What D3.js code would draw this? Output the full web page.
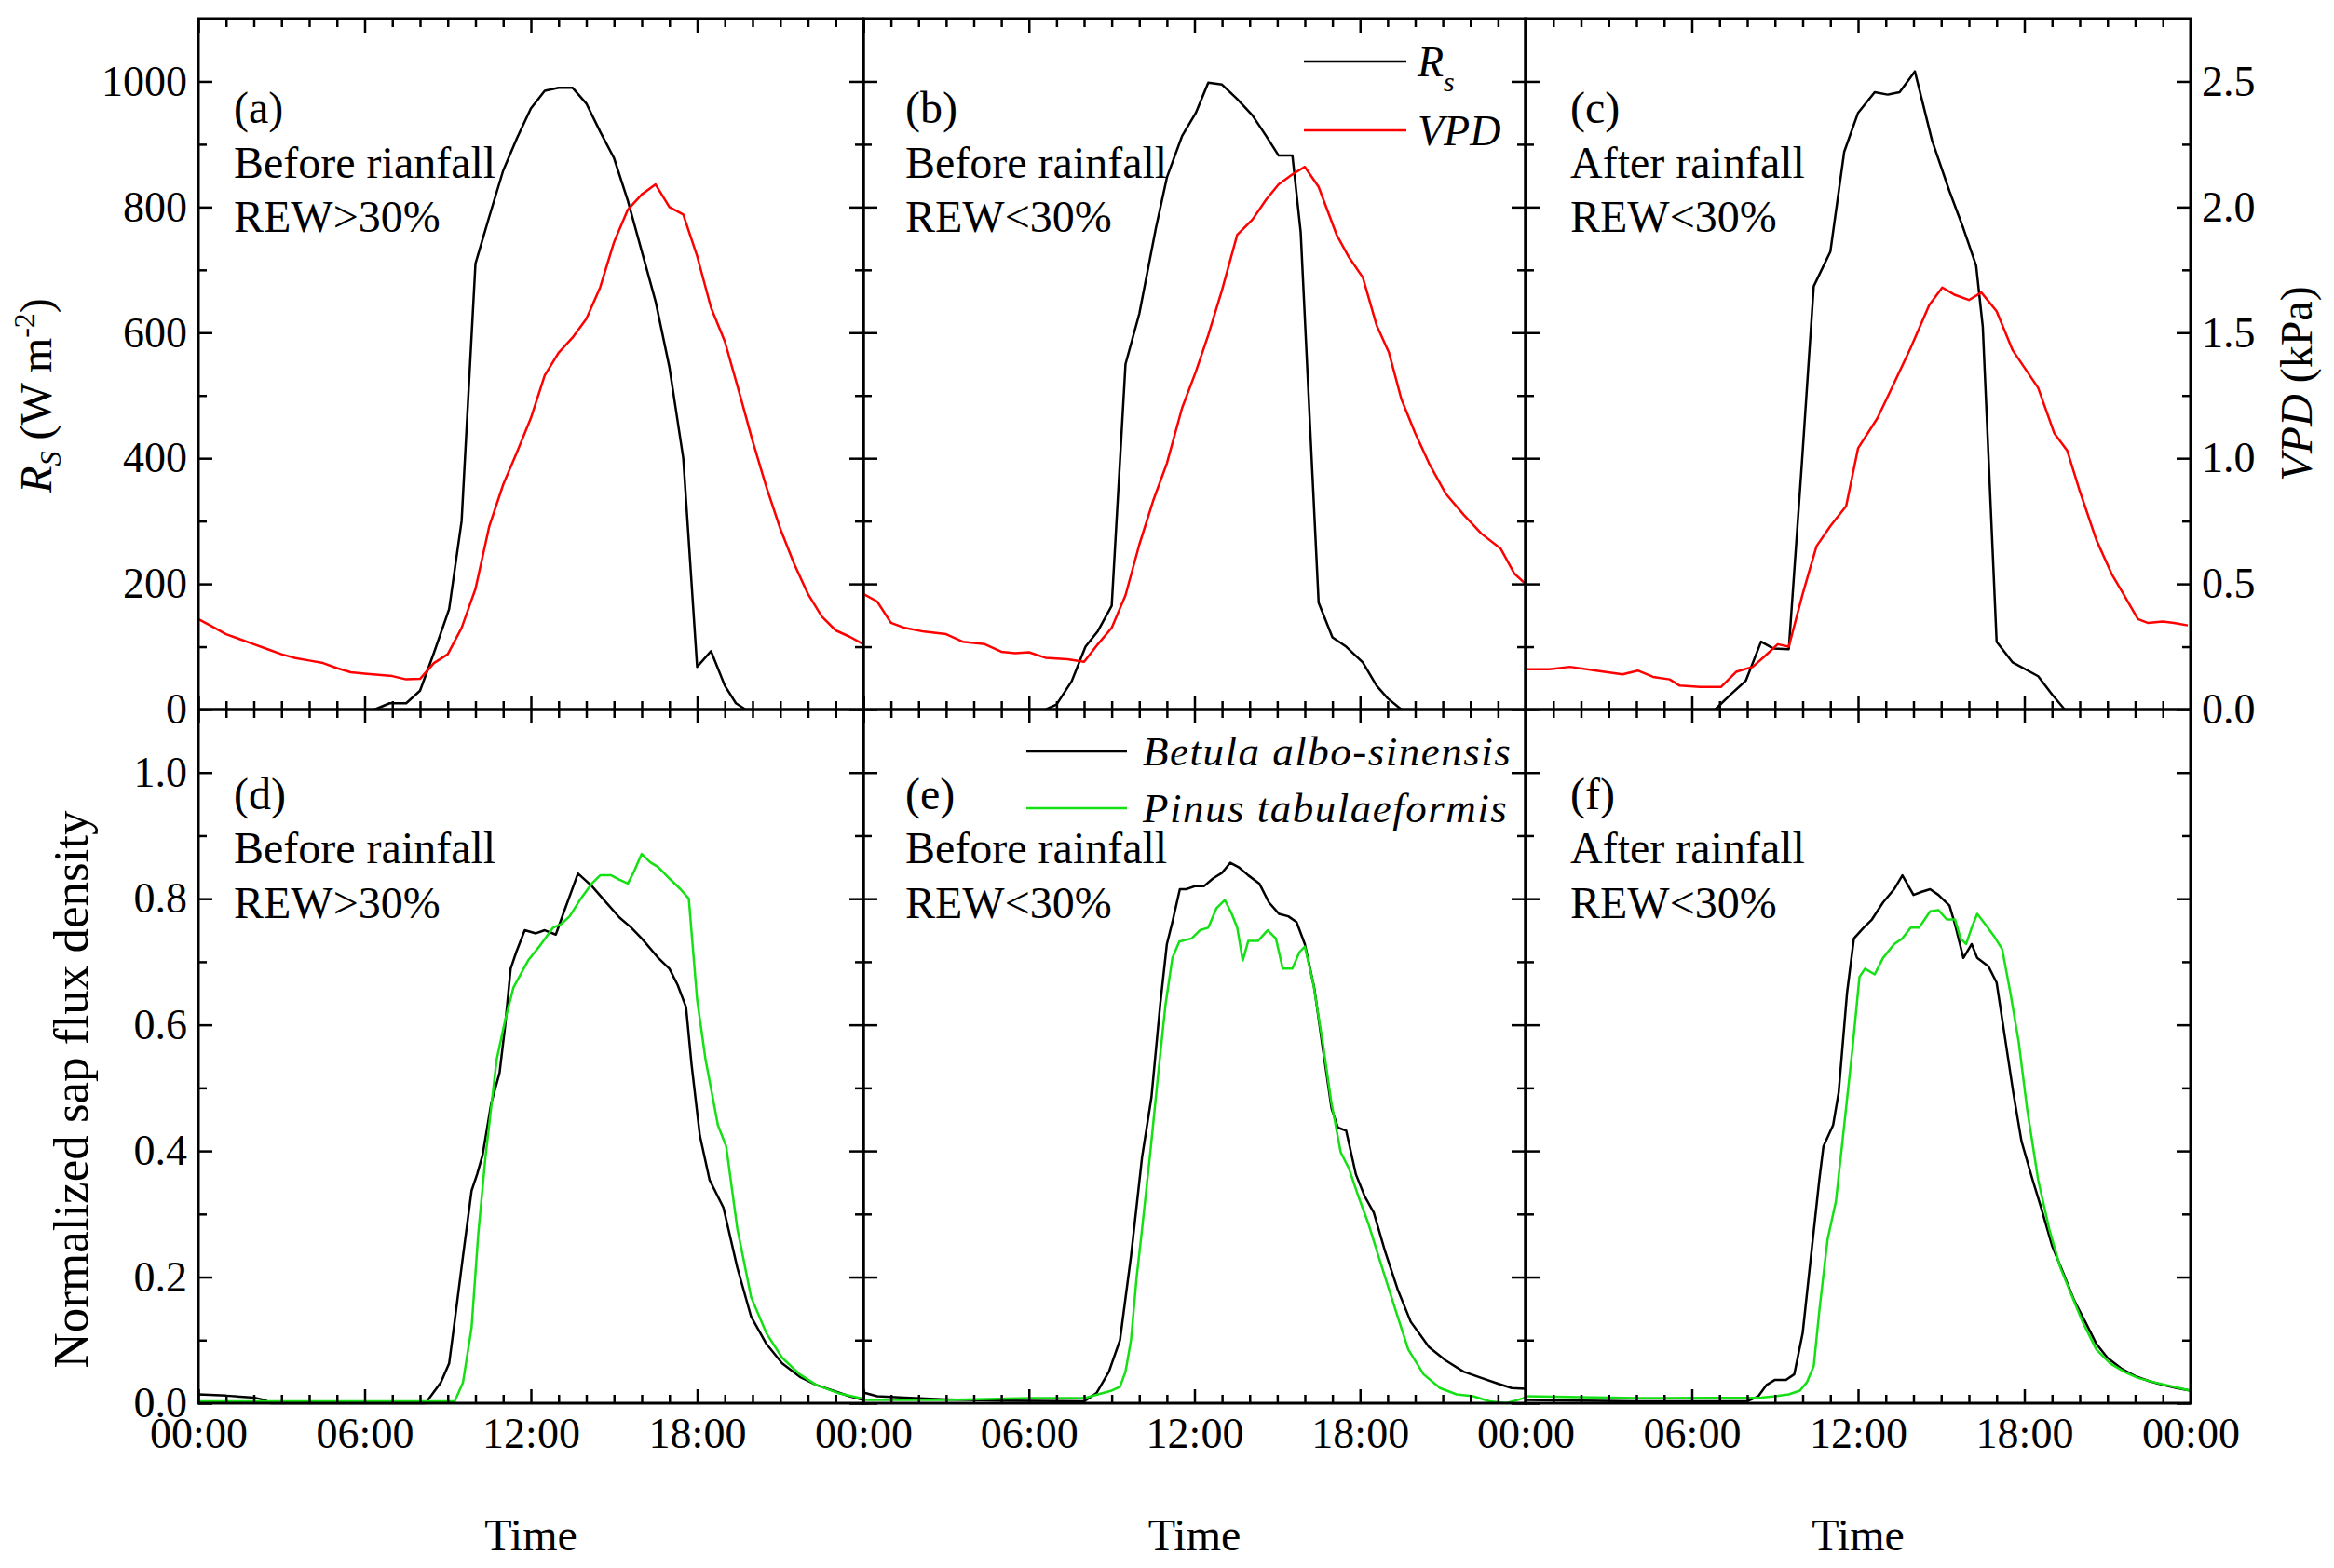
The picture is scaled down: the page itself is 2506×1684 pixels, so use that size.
<!DOCTYPE html>
<html>
<head>
<meta charset="utf-8">
<script src="https://cdn.jsdelivr.net/npm/d3@7"></script>
<style>
  body { margin: 0; background: #fff; }
</style>
</head>
<body>
<svg id="chart"></svg>
<script>
// ---- data (hour of day, value) ----
const rsA = [[6.36,0],[6.9,10],[7.5,10],[8.0,30],[8.5,90],[9.05,160],[9.5,300],[10.0,710],[10.5,785],[11.0,858],[11.5,910],[12.0,957],[12.5,985],[13.0,990],[13.5,990],[14.0,965],[14.5,920],[15.0,878],[15.5,810],[16.0,730],[16.5,650],[17.0,545],[17.5,400],[18.0,68],[18.5,93],[19.0,38],[19.4,10],[19.75,0]];
const vpdA = [[0,0.36],[0.5,0.33],[1,0.30],[1.5,0.28],[2,0.26],[2.5,0.24],[3,0.22],[3.5,0.205],[4,0.195],[4.5,0.185],[5,0.165],[5.5,0.148],[6,0.143],[6.5,0.138],[7,0.133],[7.5,0.12],[8,0.122],[8.5,0.185],[9,0.22],[9.5,0.325],[10,0.48],[10.5,0.73],[11,0.895],[11.5,1.025],[12,1.16],[12.5,1.33],[13,1.42],[13.5,1.48],[14,1.555],[14.5,1.68],[15,1.86],[15.5,1.99],[16,2.05],[16.5,2.09],[17,2.0],[17.5,1.97],[18,1.805],[18.5,1.6],[19,1.465],[19.5,1.27],[20,1.07],[20.5,0.885],[21,0.72],[21.5,0.58],[22,0.46],[22.5,0.37],[23,0.315],[23.5,0.29],[24,0.26]];

const rsB = [[6.6,0],[7.0,8],[7.55,45],[8.05,100],[8.5,125],[9.0,165],[9.5,550],[10.0,630],[10.6,766],[11.0,847],[11.55,913],[12.05,950],[12.5,998],[13.0,995],[13.55,972],[14.1,946],[14.6,913],[15.05,882],[15.55,882],[15.85,760],[16.5,170],[17.0,115],[17.5,100],[18.1,75],[18.6,38],[19.0,18],[19.5,0]];
const vpdB = [[0,0.46],[0.5,0.43],[1.0,0.345],[1.5,0.325],[2.2,0.31],[3.0,0.30],[3.6,0.27],[4.4,0.26],[5.0,0.23],[5.5,0.224],[6.0,0.228],[6.6,0.206],[7.4,0.20],[8.0,0.19],[8.5,0.26],[9.0,0.325],[9.5,0.455],[10.0,0.656],[10.5,0.83],[11.0,0.98],[11.55,1.2],[12.05,1.345],[12.5,1.49],[13.0,1.67],[13.55,1.89],[14.1,1.95],[14.6,2.03],[15.05,2.09],[15.55,2.13],[16.0,2.16],[16.5,2.08],[17.15,1.89],[17.6,1.8],[18.1,1.72],[18.6,1.53],[19.05,1.42],[19.5,1.235],[20.0,1.10],[20.5,0.98],[21.1,0.86],[21.75,0.776],[22.4,0.70],[23.1,0.64],[23.6,0.54],[24.0,0.50]];

const rsC = [[6.84,0],[7.4,24],[7.95,46],[8.5,108],[8.95,97],[9.5,96],[9.97,391],[10.4,674],[11.0,729],[11.5,888],[12.0,950],[12.6,983],[13.07,979],[13.5,983],[14.05,1016],[14.67,906],[15.3,825],[15.8,766],[16.26,707],[16.5,610],[16.72,390],[17.0,108],[17.58,75],[18.5,53],[19.0,24],[19.46,0]];
const vpdC = [[0,0.16],[0.86,0.16],[1.6,0.17],[2.55,0.155],[3.5,0.14],[4.05,0.155],[4.6,0.13],[5.2,0.12],[5.56,0.095],[6.3,0.09],[7.06,0.09],[7.6,0.15],[8.2,0.17],[8.66,0.215],[9.1,0.26],[9.5,0.25],[10.0,0.46],[10.5,0.65],[11.0,0.73],[11.57,0.81],[12.0,1.04],[12.7,1.16],[13.26,1.29],[13.9,1.44],[14.57,1.61],[15.04,1.68],[15.5,1.65],[16.0,1.63],[16.45,1.66],[17.0,1.585],[17.58,1.43],[18.5,1.28],[19.08,1.10],[19.55,1.03],[20.0,0.87],[20.6,0.675],[21.15,0.54],[21.6,0.455],[22.1,0.36],[22.45,0.345],[23.0,0.35],[23.4,0.345],[23.9,0.335]];

const betulaD = [[0,0.014],[1.0,0.012],[2.0,0.009],[2.4,0.005],[2.6,0],[8.2,0],[8.75,0.033],[9.05,0.063],[9.25,0.13],[9.55,0.233],[9.86,0.337],[10.06,0.363],[10.26,0.394],[10.57,0.476],[10.87,0.524],[11.07,0.598],[11.27,0.689],[11.47,0.715],[11.78,0.75],[12.18,0.745],[12.5,0.75],[12.9,0.743],[13.2,0.78],[13.7,0.84],[14.2,0.82],[14.7,0.795],[15.2,0.77],[15.6,0.755],[16.0,0.737],[16.6,0.706],[17.0,0.689],[17.3,0.663],[17.6,0.628],[17.8,0.537],[18.1,0.424],[18.45,0.354],[18.95,0.31],[19.45,0.215],[19.95,0.137],[20.5,0.094],[21.07,0.063],[21.7,0.042],[22.3,0.029],[22.9,0.02],[23.5,0.011],[24,0.005]];
const pinusD = [[0,0.003],[9.25,0.003],[9.55,0.033],[9.86,0.12],[10.1,0.268],[10.36,0.39],[10.77,0.546],[11.07,0.607],[11.37,0.659],[11.9,0.702],[12.3,0.724],[12.8,0.754],[13.1,0.76],[13.4,0.772],[13.8,0.80],[14.2,0.824],[14.5,0.837],[14.9,0.837],[15.2,0.83],[15.5,0.824],[15.7,0.841],[16.0,0.871],[16.3,0.858],[16.6,0.85],[17.0,0.832],[17.4,0.815],[17.7,0.80],[18.0,0.64],[18.3,0.546],[18.75,0.441],[19.05,0.407],[19.45,0.277],[19.95,0.168],[20.5,0.111],[21.07,0.072],[21.7,0.046],[22.3,0.029],[23.1,0.016],[24,0.007]];

const betulaE = [[0,0.017],[0.5,0.011],[1.5,0.009],[3,0.006],[5,0.004],[8.0,0.003],[8.45,0.016],[8.9,0.05],[9.3,0.10],[9.7,0.233],[10.1,0.39],[10.44,0.485],[10.76,0.633],[11.0,0.728],[11.2,0.763],[11.47,0.815],[11.7,0.815],[12.03,0.82],[12.35,0.82],[12.67,0.832],[13.0,0.841],[13.3,0.857],[13.6,0.85],[13.95,0.837],[14.35,0.824],[14.7,0.794],[15.06,0.776],[15.4,0.772],[15.7,0.763],[16.0,0.728],[16.34,0.659],[16.65,0.563],[16.97,0.467],[17.2,0.437],[17.5,0.432],[17.85,0.363],[18.17,0.328],[18.5,0.302],[18.9,0.242],[19.36,0.181],[19.84,0.129],[20.5,0.089],[21.1,0.068],[21.75,0.05],[22.4,0.04],[23.0,0.031],[23.5,0.024],[24,0.023]];
const pinusE = [[0,0.005],[3,0.005],[6,0.008],[8.0,0.008],[8.5,0.014],[9.0,0.02],[9.3,0.026],[9.5,0.05],[9.7,0.10],[9.9,0.198],[10.1,0.276],[10.4,0.398],[10.7,0.528],[10.95,0.632],[11.2,0.706],[11.45,0.732],[11.9,0.737],[12.2,0.75],[12.5,0.754],[12.8,0.785],[13.1,0.798],[13.35,0.776],[13.55,0.754],[13.75,0.702],[13.95,0.733],[14.3,0.733],[14.65,0.75],[14.95,0.737],[15.2,0.689],[15.55,0.689],[15.8,0.715],[16.0,0.724],[16.3,0.667],[16.65,0.572],[16.95,0.48],[17.3,0.398],[17.6,0.372],[17.9,0.333],[18.3,0.285],[18.8,0.215],[19.3,0.146],[19.75,0.085],[20.3,0.046],[20.9,0.024],[21.5,0.014],[22.1,0.011],[22.7,0.003],[23.3,0.0],[23.7,0.005],[24,0.009]];

const betulaF = [[0,0.005],[4,0.003],[8.0,0.003],[8.4,0.011],[8.7,0.029],[9.0,0.037],[9.4,0.037],[9.7,0.046],[10.0,0.111],[10.3,0.233],[10.6,0.354],[10.75,0.407],[11.1,0.441],[11.3,0.493],[11.6,0.65],[11.85,0.737],[12.2,0.754],[12.5,0.767],[12.9,0.794],[13.3,0.815],[13.6,0.837],[14.0,0.806],[14.3,0.811],[14.6,0.815],[14.9,0.806],[15.3,0.789],[15.5,0.759],[15.8,0.706],[16.1,0.728],[16.3,0.706],[16.7,0.693],[17.0,0.667],[17.3,0.58],[17.6,0.493],[17.9,0.415],[18.3,0.354],[18.6,0.311],[19.0,0.25],[19.4,0.207],[19.8,0.163],[20.2,0.129],[20.6,0.094],[21.0,0.072],[21.5,0.055],[22.0,0.043],[22.5,0.035],[23.0,0.029],[23.5,0.024],[24,0.02]];
const pinusF = [[0,0.011],[4,0.008],[8.5,0.009],[9.0,0.011],[9.5,0.014],[9.9,0.02],[10.15,0.033],[10.4,0.059],[10.6,0.146],[10.9,0.26],[11.2,0.32],[11.5,0.441],[11.8,0.563],[12.05,0.676],[12.25,0.689],[12.6,0.68],[12.9,0.706],[13.3,0.728],[13.6,0.737],[13.9,0.754],[14.2,0.754],[14.6,0.78],[14.9,0.782],[15.2,0.767],[15.5,0.767],[15.7,0.737],[15.9,0.728],[16.1,0.754],[16.3,0.776],[16.6,0.759],[16.9,0.741],[17.2,0.72],[17.5,0.65],[17.8,0.572],[18.1,0.467],[18.5,0.354],[18.9,0.276],[19.3,0.215],[19.7,0.172],[20.1,0.129],[20.6,0.085],[21.1,0.063],[21.6,0.05],[22.1,0.04],[22.7,0.033],[23.3,0.027],[24,0.02]];

// ---- labels and ticks ----
const panelTags = ["(a)", "(b)", "(c)", "(d)", "(e)", "(f)"];
const panelLine1 = ["Before rianfall", "Before rainfall", "After rainfall", "Before rainfall", "Before rainfall", "After rainfall"];
const panelLine2 = ["REW>30%", "REW<30%", "REW<30%", "REW>30%", "REW<30%", "REW<30%"];
const timeTicks = [0, 6, 12, 18, 24];
const timeLabels = ["00:00", "06:00", "12:00", "18:00", "00:00"];
const rsTicks = [0, 200, 400, 600, 800, 1000];
const vpdTicks = [0, 0.5, 1.0, 1.5, 2.0, 2.5];
const sapTicks = [0, 0.2, 0.4, 0.6, 0.8, 1.0];

// ---- layout ----
const W = 2506, H = 1684;
const colX = [213, 927, 1638, 2352];
const rowY = [20, 762, 1507];
const tagDx = [38, 45, 48];
const font = "'Liberation Serif', 'Times New Roman', serif";
const green = "#14e014";

const svg = d3.select("#chart").attr("width", W).attr("height", H)
  .style("font-family", font);
svg.append("rect").attr("width", W).attr("height", H).attr("fill", "#fff");

const hourMinor = d3.range(0, 25).filter((h) => h % 6 !== 0);
const line = (x, y) => d3.line().x((d) => x(d[0])).y((d) => y(d[1]));

function addAxis(axisFn, scale, transform, major, minor, fmt, pad) {
  const g = svg.append("g").attr("transform", transform);
  g.call(axisFn(scale).tickValues(major).tickSize(-15).tickSizeOuter(0)
    .tickPadding(pad || 12).tickFormat(fmt || (() => "")));
  g.append("g").call(axisFn(scale).tickValues(minor).tickSize(-9)
    .tickSizeOuter(0).tickFormat(() => ""));
  g.selectAll(".domain").remove();
  g.selectAll("line").attr("stroke", "#000").attr("stroke-width", 2.5);
  g.attr("font-family", font).attr("font-size", 46);
  g.selectAll("text").attr("fill", "#000");
  return g;
}

const panels = [
  { col: 0, row: 0, black: rsA, color: vpdA },
  { col: 1, row: 0, black: rsB, color: vpdB },
  { col: 2, row: 0, black: rsC, color: vpdC },
  { col: 0, row: 1, black: betulaD, color: pinusD },
  { col: 1, row: 1, black: betulaE, color: pinusE },
  { col: 2, row: 1, black: betulaF, color: pinusF }
];

panels.forEach((p, i) => {
  const x0 = colX[p.col], x1 = colX[p.col + 1];
  const y0 = rowY[p.row], y1 = rowY[p.row + 1];
  const x = d3.scaleLinear().domain([0, 24]).range([x0, x1]);
  const top = p.row === 0;
  const yL = d3.scaleLinear().domain(top ? [0, 1100] : [0, 1.1]).range([y1, y0]);
  const yR = top ? d3.scaleLinear().domain([0, 2.75]).range([y1, y0]) : yL;
  const majorY = top ? rsTicks : sapTicks;
  const minorY = top ? d3.range(100, 1101, 200) : d3.range(0.1, 1.1, 0.2);

  svg.append("path").datum(p.black)
    .attr("fill", "none").attr("stroke", "#000").attr("stroke-width", 2.5)
    .attr("stroke-linejoin", "round").attr("d", line(x, yL));
  svg.append("path").datum(p.color)
    .attr("fill", "none").attr("stroke", top ? "#ff0000" : green).attr("stroke-width", 2.5)
    .attr("stroke-linejoin", "round").attr("d", line(x, yR));

  // frame
  svg.append("rect").attr("x", x0).attr("y", y0)
    .attr("width", x1 - x0).attr("height", y1 - y0)
    .attr("fill", "none").attr("stroke", "#000").attr("stroke-width", 3);

  const xFmt = top ? null : (d, k) => (p.col > 0 && k === 0 ? "" : timeLabels[k]);
  addAxis(d3.axisBottom, x, `translate(0,${y1})`, timeTicks, hourMinor, xFmt, 15);
  addAxis(d3.axisTop, x, `translate(0,${y0})`, timeTicks, hourMinor);
  const lFmt = p.col === 0 ? (top ? d3.format("d") : d3.format(".1f")) : null;
  addAxis(d3.axisLeft, yL, `translate(${x0},0)`, majorY, minorY, lFmt);
  if (top && p.col === 2) {
    addAxis(d3.axisRight, yR, `translate(${x1},0)`, vpdTicks, d3.range(0.25, 2.76, 0.5), d3.format(".1f"));
  } else {
    addAxis(d3.axisRight, yL, `translate(${x1},0)`, majorY, minorY);
  }

  // panel annotation
  const tx = x0 + tagDx[p.col];
  const offs = top ? [112, 171, 229] : [107, 165, 224];
  [panelTags[i], panelLine1[i], panelLine2[i]].forEach((t, k) => {
    svg.append("text").attr("x", tx).attr("y", y0 + offs[k])
      .attr("font-size", 48).attr("fill", "#000").text(t);
  });

  if (!top) {
    svg.append("text").attr("x", (x0 + x1) / 2).attr("y", 1665)
      .attr("text-anchor", "middle").attr("font-size", 48).text("Time");
  }
});

// legends
const legTop = [
  { y: 66, color: "#000", label: "R", sub: "s" },
  { y: 140, color: "#ff0000", label: "VPD" }
];
legTop.forEach((d) => {
  svg.append("line").attr("x1", 1400).attr("x2", 1510).attr("y1", d.y).attr("y2", d.y)
    .attr("stroke", d.color).attr("stroke-width", 2.5);
  const t = svg.append("text").attr("x", 1522).attr("y", d.y + 16)
    .attr("font-size", 46).attr("font-style", "italic").text(d.label);
  if (d.sub) t.append("tspan").attr("dy", 16).attr("font-size", 30).text(d.sub);
});

const legBottom = [
  { y: 807, color: "#000", label: "Betula albo-sinensis" },
  { y: 868, color: green, label: "Pinus tabulaeformis" }
];
legBottom.forEach((d) => {
  svg.append("line").attr("x1", 1102).attr("x2", 1210).attr("y1", d.y).attr("y2", d.y)
    .attr("stroke", d.color).attr("stroke-width", 2.5);
  svg.append("text").attr("x", 1227).attr("y", d.y + 15)
    .attr("font-size", 45).attr("font-style", "italic")
    .attr("letter-spacing", 1.5).text(d.label);
});

// axis titles
const rsTitle = svg.append("text")
  .attr("transform", "translate(55,425) rotate(-90)")
  .attr("text-anchor", "middle").attr("font-size", 48);
rsTitle.append("tspan").attr("font-style", "italic").text("R");
rsTitle.append("tspan").attr("font-style", "italic").attr("font-size", 32).attr("dy", 10).text("S");
rsTitle.append("tspan").attr("dy", -10).text(" (W m");
rsTitle.append("tspan").attr("font-size", 32).attr("dy", -18).text("-2");
rsTitle.append("tspan").attr("dy", 18).text(")");

const vpdTitle = svg.append("text")
  .attr("transform", "translate(2482,412) rotate(-90)")
  .attr("text-anchor", "middle").attr("font-size", 48);
vpdTitle.append("tspan").attr("font-style", "italic").text("VPD");
vpdTitle.append("tspan").text(" (kPa)");

svg.append("text")
  .attr("transform", "translate(94,1170) rotate(-90)")
  .attr("text-anchor", "middle").attr("font-size", 53)
  .text("Normalized sap flux density");
</script>
</body>
</html>
